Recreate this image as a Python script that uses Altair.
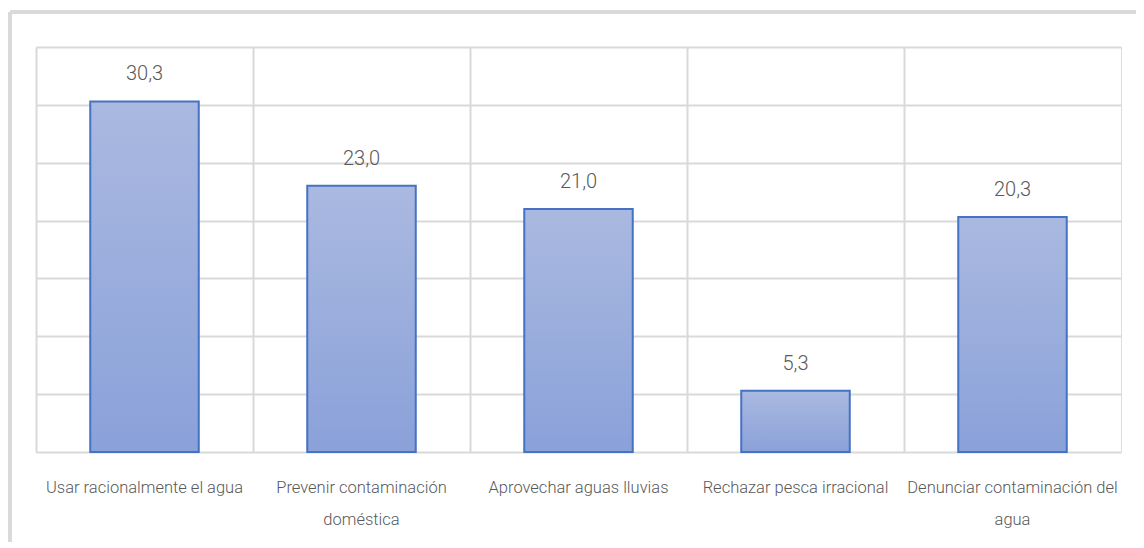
import altair as alt
import pandas as pd

categories = [
    "Usar racionalmente el agua",
    "Prevenir contaminación|doméstica",
    "Aprovechar aguas lluvias",
    "Rechazar pesca irracional",
    "Denunciar contaminación del|agua",
]
values = [30.3, 23.0, 21.0, 5.3, 20.3]
value_labels = ["30,3", "23,0", "21,0", "5,3", "20,3"]

df = pd.DataFrame({"cat": categories, "val": values, "lab": value_labels})

FONT = "Roboto"
GRID = "#d9d9d9"
TXT = "#595959"

x_enc = alt.X(
    "cat:N",
    sort=categories,
    title=None,
    scale=alt.Scale(paddingInner=0, paddingOuter=0),
    axis=alt.Axis(
        labelExpr="split(datum.label, '|')",
        labelAngle=0,
        labelFont=FONT,
        labelFontSize=16.5,
        labelFontWeight=300,
        labelColor=TXT,
        labelPadding=27,
        labelLineHeight=32,
        labelLimit=240,
        ticks=False,
        domain=False,
        grid=True,
        gridColor=GRID,
        gridWidth=2,
        bandPosition=0,
    ),
)
y_enc = alt.Y(
    "val:Q",
    title=None,
    scale=alt.Scale(domain=[0, 35], nice=False),
    axis=alt.Axis(
        values=[0, 5, 10, 15, 20, 25, 30, 35],
        labels=False,
        ticks=False,
        domain=False,
        grid=True,
        gridColor=GRID,
        gridWidth=2,
    ),
)

bars = alt.Chart(df).mark_bar(
    width={"band": 0.5},
    stroke="#4472c4",
    strokeWidth=2,
    color=alt.Gradient(
        gradient="linear",
        stops=[
            alt.GradientStop(color="#aab9e0", offset=0),
            alt.GradientStop(color="#8aa1d9", offset=1),
        ],
        x1=0, x2=0, y1=0, y2=1,
    ),
).encode(x=x_enc, y=y_enc)

texts = alt.Chart(df).mark_text(
    font=FONT, fontSize=20, fontWeight=300, color=TXT, dy=-27
).encode(x=alt.X("cat:N", sort=categories), y="val:Q", text="lab:N")

# outer chart frame (left and top edges visible)
frame_left = alt.Chart(df).mark_rule(color=GRID, strokeWidth=3).encode(
    x=alt.value(-26), y=alt.value(-35), y2=alt.value(520)
)
frame_top = alt.Chart(df).mark_rule(color=GRID, strokeWidth=3).encode(
    x=alt.value(-26), x2=alt.value(1130), y=alt.value(-35)
)

chart = (
    alt.layer(frame_left, frame_top, bars, texts)
    .properties(
        width=1085, height=405,
        autosize=alt.AutoSizeParams(type="none"),
        padding={"left": 28, "top": 39, "right": 15, "bottom": 90},
    )
    .configure_view(stroke=GRID, strokeWidth=2)
    .configure(background="white")
)

chart.save("out.html", embed_options={"renderer": "svg", "actions": False})
